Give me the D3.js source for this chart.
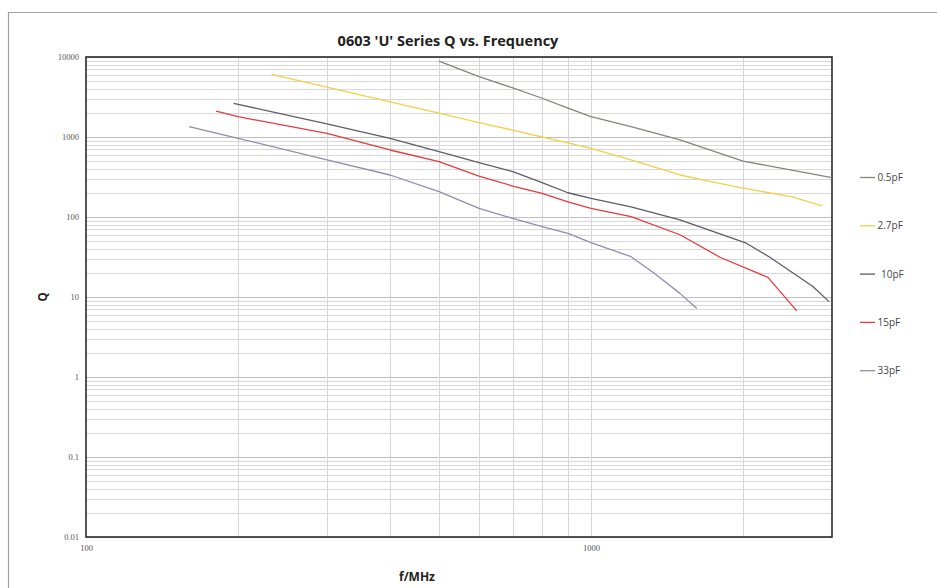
<!DOCTYPE html>
<html>
<head>
<meta charset="utf-8">
<script src="https://cdn.jsdelivr.net/npm/d3@7"></script>
<style>
  body { margin: 0; background: #fff; }
  svg { display: block; }
</style>
</head>
<body>
<svg id="chart" width="937" height="588"></svg>
<script>
// ---- Data ----
const seriesNames = ["0.5pF", "2.7pF", "10pF", "15pF", "33pF"];
const seriesColors = ["#85857c", "#f3cf4a", "#5c5c6c", "#e8393c", "#8e8eae"];

const freq_05 = [500, 600, 700, 800, 900, 1000, 1200, 1500, 2000, 3000];
const q_05    = [8900, 5700, 4100, 3050, 2300, 1800, 1350, 920, 500, 310];

const freq_27 = [233, 300, 400, 500, 600, 700, 800, 900, 1000, 1200, 1500, 1700, 2000, 2500, 2870];
const q_27    = [6080, 4190, 2750, 1985, 1517, 1220, 1000, 843, 720, 516, 335, 282, 230, 178, 138];

const freq_10 = [196, 300, 400, 500, 600, 700, 800, 900, 1000, 1200, 1500, 2030, 2260, 2750, 2960];
const q_10    = [2640, 1455, 964, 656, 478, 369, 269, 201, 171, 134, 92, 47, 31.4, 13.5, 8.75];

const freq_15 = [181, 200, 300, 400, 500, 600, 700, 800, 900, 1000, 1200, 1500, 1800, 2240, 2555];
const q_15    = [2110, 1795, 1111, 688, 492, 325, 244, 198, 155, 128, 101, 60, 31.4, 17.6, 6.7];

const freq_33 = [160, 200, 300, 400, 500, 600, 700, 800, 900, 1000, 1200, 1330, 1500, 1620];
const q_33    = [1346, 964, 516, 335, 207, 128, 96, 76, 62.5, 47.8, 31.9, 20.1, 11.1, 7.2];

const xTickValues = [100, 1000];
const yTickValues = [0.01, 0.1, 1, 10, 100, 1000, 10000];
const yTickLabels = ["0.01", "0.1", "1", "10", "100", "1000", "10000"];

const series = [
  { name: seriesNames[0], color: seriesColors[0], f: freq_05, q: q_05 },
  { name: seriesNames[1], color: seriesColors[1], f: freq_27, q: q_27 },
  { name: seriesNames[2], color: seriesColors[2], f: freq_10, q: q_10 },
  { name: seriesNames[3], color: seriesColors[3], f: freq_15, q: q_15 },
  { name: seriesNames[4], color: seriesColors[4], f: freq_33, q: q_33 }
];

// ---- Layout ----
const svg = d3.select("#chart");
const W = 937, H = 588;
const plot = { left: 86, top: 57, right: 832, bottom: 537 };

// outer chart border
svg.append("path")
  .attr("d", `M8.5,${H} L8.5,12.5 L${W},12.5`)
  .attr("fill", "none").attr("stroke", "#a0a0a0").attr("stroke-width", 1.2);

const x = d3.scaleLog().domain([100, 3000]).range([plot.left, plot.right]);
const y = d3.scaleLog().domain([0.01, 10000]).range([plot.bottom, plot.top]);

const g = svg.append("g");

// minor horizontal gridlines
const minorY = [];
for (let e = -2; e < 4; e++) for (let m = 2; m <= 9; m++) minorY.push(m * Math.pow(10, e));
g.selectAll(".hminor").data(minorY).enter().append("line")
  .attr("x1", plot.left).attr("x2", plot.right)
  .attr("y1", d => Math.round(y(d)) + 0.5).attr("y2", d => Math.round(y(d)) + 0.5)
  .attr("stroke", "#d8d8d8").attr("stroke-width", 1);

// major horizontal gridlines
g.selectAll(".hmajor").data(yTickValues).enter().append("line")
  .attr("x1", plot.left).attr("x2", plot.right)
  .attr("y1", d => Math.round(y(d)) + 0.5).attr("y2", d => Math.round(y(d)) + 0.5)
  .attr("stroke", "#c0c0c0").attr("stroke-width", 1.2);

// vertical gridlines
const vGrid = [200, 300, 400, 500, 600, 700, 800, 900, 1000, 2000];
g.selectAll(".vgrid").data(vGrid).enter().append("line")
  .attr("y1", plot.top).attr("y2", plot.bottom)
  .attr("x1", d => Math.round(x(d)) + 0.5).attr("x2", d => Math.round(x(d)) + 0.5)
  .attr("stroke", "#d6d6d8").attr("stroke-width", 1);

// plot frame
g.append("rect")
  .attr("x", plot.left).attr("y", plot.top)
  .attr("width", plot.right - plot.left).attr("height", plot.bottom - plot.top)
  .attr("fill", "none").attr("stroke", "#2a2a2a").attr("stroke-width", 1.6);

// axes (labels only, using d3 axes)
const yAxis = d3.axisLeft(y).tickValues(yTickValues)
  .tickFormat((d, i) => yTickLabels[i]).tickSize(0).tickPadding(7);
const yg = svg.append("g").attr("transform", `translate(${plot.left},0)`).call(yAxis);
yg.select(".domain").remove();
yg.selectAll("text").attr("font-family", "Liberation Serif, serif")
  .attr("font-size", 8.5).attr("fill", "#555");

const xAxis = d3.axisBottom(x).tickValues(xTickValues)
  .tickFormat(d3.format("d")).tickSize(0).tickPadding(8);
const xg = svg.append("g").attr("transform", `translate(0,${plot.bottom})`).call(xAxis);
xg.select(".domain").remove();
xg.selectAll("text").attr("font-family", "Liberation Serif, serif")
  .attr("font-size", 8.5).attr("fill", "#555");

// lines
const line = d3.line().x(d => x(d[0])).y(d => y(d[1]));
series.forEach(s => {
  const pts = s.f.map((f, i) => [f, s.q[i]]);
  svg.append("path").datum(pts)
    .attr("d", line).attr("fill", "none")
    .attr("stroke", s.color).attr("stroke-width", 1.3)
    .attr("stroke-linejoin", "round");
});

// title
svg.append("text").attr("x", 448).attr("y", 46).attr("text-anchor", "middle")
  .attr("font-family", "Open Sans, Noto Sans, sans-serif").attr("font-weight", "bold")
  .attr("font-size", 14.5).attr("fill", "#222")
  .text("0603 'U' Series Q vs. Frequency");

// axis titles
svg.append("text").attr("x", 417).attr("y", 581).attr("text-anchor", "middle")
  .attr("font-family", "Open Sans, Noto Sans, sans-serif").attr("font-weight", "bold")
  .attr("font-size", 12).attr("fill", "#222").text("f/MHz");

svg.append("text").attr("transform", "translate(47,297) rotate(-90)")
  .attr("text-anchor", "middle")
  .attr("font-family", "Open Sans, Noto Sans, sans-serif").attr("font-weight", "bold")
  .attr("font-size", 11.5).attr("fill", "#222").text("Q");

// legend
const legendY0 = 177.5, legendStep = 48.3;
const lg = svg.append("g");
series.forEach((s, i) => {
  const ly = legendY0 + i * legendStep;
  lg.append("line").attr("x1", 860).attr("x2", 875).attr("y1", ly).attr("y2", ly)
    .attr("stroke", s.color).attr("stroke-width", 1.3);
  lg.append("text").attr("x", s.name === "10pF" ? 881 : 877.5).attr("y", ly + 3.5)
    .attr("font-family", "Open Sans, Noto Sans, sans-serif")
    .attr("font-size", 10).attr("fill", "#444").text(s.name);
});
</script>
</body>
</html>
